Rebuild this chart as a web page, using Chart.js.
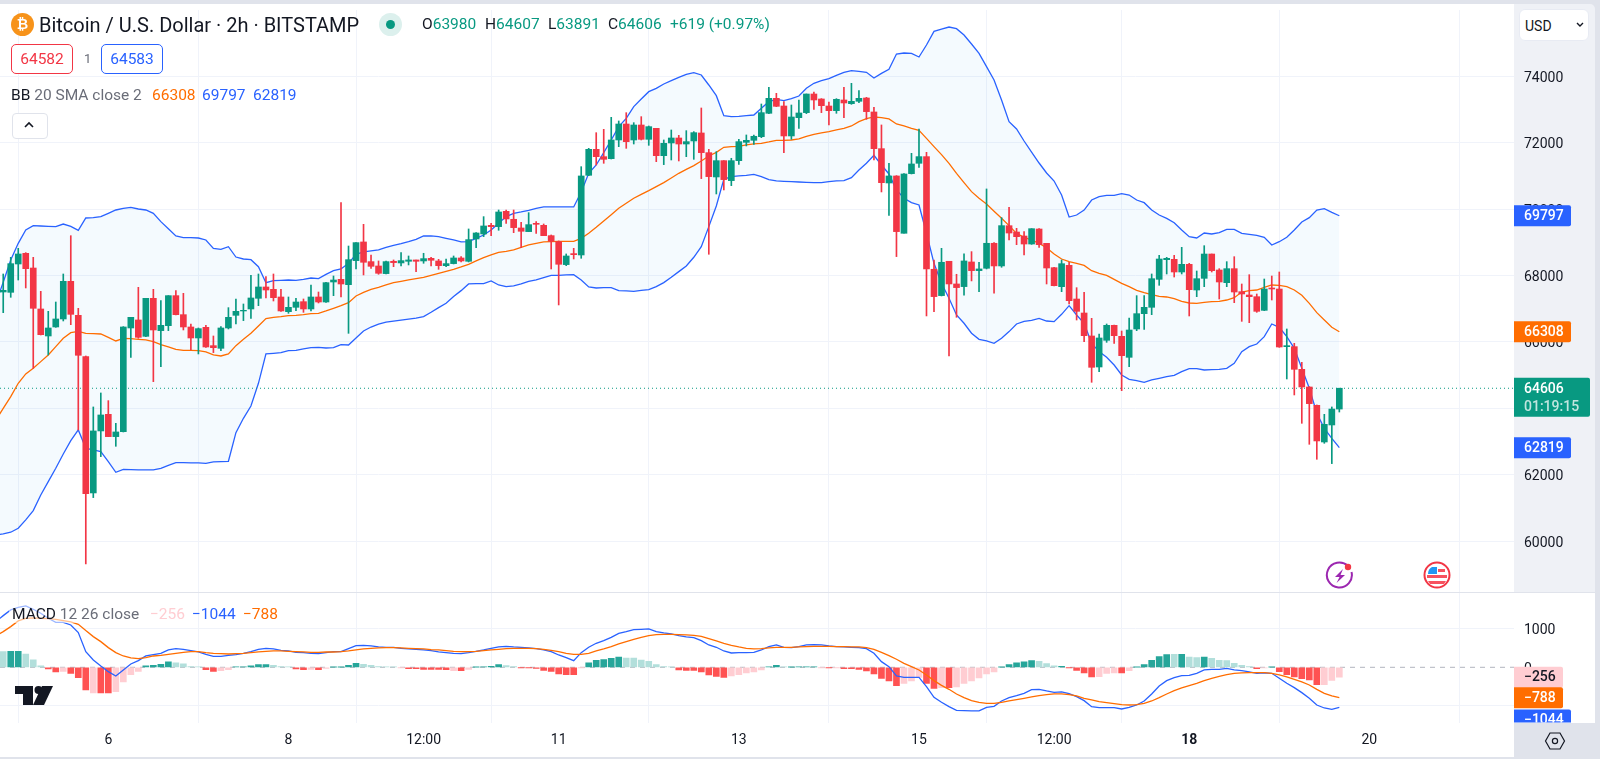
<!DOCTYPE html>
<html>
<head>
<meta charset="utf-8">
<title>BTCUSD 2h</title>
<script src="https://cdn.jsdelivr.net/npm/chart.js@4"></script>
<style>
	html, body { margin: 0; padding: 0; width: 1600px; height: 759px; overflow: hidden; background: #e0e3eb; }
	body { font-family: Roboto, sans-serif; color: #131722; position: relative; }
	.box, canvas, .t, svg { position: absolute; }
	.t { white-space: nowrap; line-height: 18px; }
	.up { color: #089981; }
	.gray { color: #6a6d78; }
</style>
</head>
<body>
<div class="box" style="left:0;top:4px;width:1514px;height:588px;background:#fff"></div>
<div class="box" style="left:1514px;top:4px;width:81px;height:588px;background:#eff1f6;border-top-right-radius:5px"></div>
<div class="box" style="left:0;top:593px;width:1595px;height:130px;background:#fff"></div>
<div class="box" style="left:0;top:723px;width:1514px;height:34px;background:#fff"></div>

<canvas id="price-chart" width="1600" height="592" style="left:0;top:0"></canvas>
<canvas id="macd-chart" width="1600" height="165" style="left:0;top:593px"></canvas>

<svg style="left:11px;top:13px" width="23" height="23" viewBox="0 0 23 23"><circle cx="11.5" cy="11.5" r="11.5" fill="#f7931a"/></svg>
<div class="t" style="left:11px;top:15px;width:23px;text-align:center;color:#fff;font-size:14px;font-weight:700">₿</div>
<div class="t" style="left:39px;top:16px;font-size:20px">Bitcoin / U.S. Dollar · 2h · BITSTAMP</div>
<svg style="left:379px;top:13px" width="23" height="23" viewBox="0 0 23 23"><circle cx="11.5" cy="11.5" r="11.5" fill="#dcf0ed"/><circle cx="11.5" cy="11.5" r="4.5" fill="#089981"/></svg>
<div class="t" style="left:422px;top:15px;font-size:15.5px">O<span class="up">63980</span></div>
<div class="t" style="left:485px;top:15px;font-size:15.5px">H<span class="up">64607</span></div>
<div class="t" style="left:548px;top:15px;font-size:15.5px">L<span class="up">63891</span></div>
<div class="t" style="left:608px;top:15px;font-size:15.5px">C<span class="up">64606</span></div>
<div class="t up" style="left:670px;top:15px;font-size:15.5px">+619 (+0.97%)</div>

<div class="box" style="left:11px;top:44px;width:60px;height:28px;border:1px solid #f23645;border-radius:5px;background:#fff"></div>
<div class="t" style="left:11px;top:50px;width:62px;text-align:center;color:#f23645;font-size:15.5px">64582</div>
<div class="t gray" style="left:84px;top:50px;font-size:13px">1</div>
<div class="box" style="left:101px;top:44px;width:60px;height:28px;border:1px solid #2962ff;border-radius:5px;background:#fff"></div>
<div class="t" style="left:101px;top:50px;width:62px;text-align:center;color:#2962ff;font-size:15.5px">64583</div>

<div class="t" style="left:11px;top:86px;font-size:15.5px">BB <span class="gray">20 SMA close 2</span></div>
<div class="t" style="left:152px;top:86px;font-size:15.5px;color:#ff6d00">66308</div>
<div class="t" style="left:202px;top:86px;font-size:15.5px;color:#2962ff">69797</div>
<div class="t" style="left:253px;top:86px;font-size:15.5px;color:#2962ff">62819</div>
<div class="box" style="left:12px;top:113px;width:34px;height:24px;border:1px solid #e0e3eb;border-radius:4px;background:#fff"></div>
<svg style="left:23px;top:120px" width="12" height="9" viewBox="0 0 12 9"><path d="M2 7 L6 3 L10 7" fill="none" stroke="#131722" stroke-width="1.6"/></svg>

<div class="box" style="left:1519px;top:9px;width:68px;height:30px;border:1px solid #e8ebf3;border-radius:6px;background:#fff"></div>
<div class="t" style="left:1525px;top:17px;font-size:14px">USD</div>
<svg style="left:1575px;top:21px" width="10" height="8" viewBox="0 0 10 8"><path d="M2 2 L5 5 L8 2" fill="none" stroke="#131722" stroke-width="1.4"/></svg>

<svg style="left:1325px;top:561px" width="30" height="30" viewBox="0 0 30 30">
	<path d="M23 5 A12.5 12.5 0 1 0 26.5 11" fill="none" stroke="#9c27b0" stroke-width="2"/>
	<path d="M18 8 L10 16 H14.5 L11.5 22 L20 14 H15.5 Z" fill="#9c27b0"/>
	<circle cx="23" cy="6" r="3.2" fill="#f23645"/>
</svg>
<svg style="left:1423px;top:561px" width="28" height="28" viewBox="0 0 28 28">
	<circle cx="14" cy="14" r="12.5" fill="#fff" stroke="#f23645" stroke-width="2"/>
	<path d="M4 14 H24 V17 H4 Z M5 20 H23 L21 23 H7 Z" fill="#f7525f"/>
	<path d="M9 6 H14 V13 H5 Q5 8 9 6 Z" fill="#2196f3"/>
	<path d="M15 8 H22 V11 H15 Z" fill="#f7525f"/>
</svg>

<div class="t" style="left:9px;top:605px;padding:0 3px;background:rgba(255,255,255,.55);font-size:15.5px">MACD <span class="gray">12 26 close</span></div>
<div class="t" style="left:150px;top:605px;font-size:15.5px;color:#ffcdd2">−256</div>
<div class="t" style="left:192px;top:605px;font-size:15.5px;color:#2962ff">−1044</div>
<div class="t" style="left:243px;top:605px;font-size:15.5px;color:#ff6d00">−788</div>

<svg style="left:15px;top:686px" width="40" height="20" viewBox="0 0 40 20" fill="#131722">
	<path d="M0 0 H18 V19 H8 V8 H0 Z"/>
	<circle cx="23.5" cy="4" r="4"/>
	<path d="M27 0 H38 L29 19 H18 Z"/>
</svg>

<div class="box" style="left:1514px;top:723px;width:86px;height:36px;background:#e0e3eb"></div>
<svg style="left:1544px;top:730px" width="22" height="22" viewBox="0 0 22 22"><path d="M6 3 H16 L20.5 11 L16 19 H6 L1.500 11 Z" fill="none" stroke="#131722" stroke-width="1.2"/><circle cx="11" cy="11" r="2.6" fill="none" stroke="#131722" stroke-width="1.2"/></svg>

<script>
// every series is one value per 2h candle, slot 0 sits just left of the visible area
const opens = [
	67300, 67503, 67493, 68346, 68667, 68225, 66992, 66179, 66450, 66691,
	67824, 66801, 65557, 61455, 63321, 63822, 63150, 63300, 66420, 66661,
	66169, 67313, 66340, 66490, 67393, 66821, 66450, 66119, 66440, 65888,
	65808, 66420, 66801, 66932, 66992, 67313, 67654, 67583, 67353, 66911,
	67042, 67212, 66992, 67353, 67202, 67804, 67884, 67724, 68447, 69009,
	68417, 68286, 68056, 68427, 68377, 68427, 68467, 68437, 68517, 68437,
	68296, 68357, 68527, 68427, 69099, 69249, 69510, 69470, 69931, 69691,
	69430, 69320, 69570, 69510, 69199, 69019, 68327, 68658, 68617, 71015,
	71797, 71576, 71516, 72078, 72559, 72078, 72529, 72098, 72429, 71606,
	71988, 72138, 71957, 72048, 72289, 71697, 70965, 71456, 70855, 71456,
	72008, 72068, 72178, 72881, 73332, 73101, 72199, 72750, 72901, 73462,
	73312, 73101, 72961, 73282, 73171, 73242, 73342, 72921, 71817, 70784,
	70995, 69270, 71065, 71376, 71577, 68187, 67394, 68427, 67745, 67665,
	68407, 68146, 68217, 68969, 68287, 69499, 69308, 69188, 68947, 69399,
	68967, 68235, 67663, 68305, 67292, 66871, 66179, 65246, 66049, 66500,
	66169, 65537, 66390, 66851, 67042, 67884, 68476, 68486, 68105, 68335,
	67563, 67914, 68646, 68165, 67784, 68205, 67513, 67413, 67362, 66951,
	67623, 67593, 65858, 65858, 65176, 64644, 64093, 62989, 63501, 63980,
];
const highs = [
	67650, 68045, 68546, 68817, 68687, 68546, 67523, 66921, 67202, 68045,
	69198, 67012, 65577, 64043, 64464, 64233, 63551, 66460, 66741, 67644,
	67313, 67583, 67242, 67393, 67543, 67463, 66540, 66420, 66500, 66179,
	66460, 67032, 67293, 67142, 68005, 68045, 67965, 68045, 67583, 67353,
	67313, 67293, 67714, 67503, 67794, 67985, 70191, 68887, 68989, 69540,
	68617, 68437, 68437, 68467, 68688, 68587, 68467, 68668, 68547, 68487,
	68497, 68587, 68567, 69400, 69289, 69771, 69570, 69971, 69971, 69971,
	69600, 69891, 69620, 69550, 69219, 69039, 68648, 68818, 71275, 71827,
	72298, 72399, 72760, 72650, 72900, 72599, 72780, 72499, 72429, 72078,
	72379, 72218, 72359, 72329, 73041, 71797, 71727, 71456, 71527, 72098,
	72229, 72229, 73161, 73663, 73482, 73232, 73131, 73282, 73462, 73523,
	73322, 73222, 73322, 73663, 73783, 73563, 73362, 73061, 72530, 71376,
	71005, 71065, 71677, 72409, 71707, 68467, 68818, 68427, 68036, 68648,
	68718, 68397, 70604, 68989, 69741, 70051, 69419, 69318, 69409, 69409,
	68967, 68245, 68466, 68396, 67633, 67493, 66711, 66239, 66540, 66510,
	66329, 66721, 67393, 67393, 68045, 68606, 68546, 68606, 68847, 68365,
	68135, 68897, 68646, 68205, 68416, 68566, 67744, 68024, 67443, 67894,
	67984, 68105, 66390, 65958, 65387, 64654, 64103, 63822, 64043, 64607,
];
const lows = [
	67000, 66881, 67343, 67864, 67624, 65206, 66209, 65608, 66440, 66631,
	66520, 63351, 59319, 61315, 62548, 63150, 62859, 63290, 65537, 66109,
	66159, 64805, 65256, 66340, 66811, 66360, 65758, 65638, 65838, 65678,
	65738, 66390, 66540, 66641, 66711, 67092, 67323, 67232, 66921, 66861,
	66942, 66891, 66932, 67172, 67192, 67393, 67353, 66259, 68196, 68016,
	68216, 68036, 68046, 68266, 68286, 68317, 68116, 68367, 68286, 68186,
	68266, 68347, 68407, 68407, 68838, 69169, 69199, 69360, 69570, 69289,
	68838, 69320, 69269, 69199, 68196, 67113, 68296, 68497, 68517, 71005,
	71326, 71376, 71506, 71877, 71827, 71957, 72078, 71917, 71426, 71336,
	71476, 71446, 71576, 71496, 70915, 68638, 70453, 70574, 70704, 71346,
	71898, 71948, 72148, 72871, 73081, 71697, 72098, 72429, 72871, 73001,
	72901, 72530, 72881, 72750, 73151, 73202, 72700, 71476, 70514, 69811,
	68568, 69270, 71055, 71256, 66782, 66913, 67384, 65579, 66742, 67404,
	67836, 67515, 68197, 67464, 68247, 69068, 68927, 68616, 68937, 68847,
	67744, 67683, 67513, 67142, 66660, 66008, 64785, 65106, 65988, 65958,
	64534, 65256, 66339, 66380, 66821, 67704, 68045, 67954, 68045, 66781,
	67362, 67663, 68105, 67292, 67663, 67182, 66620, 66580, 66891, 66941,
	67262, 65838, 64885, 64404, 63551, 62919, 62468, 62949, 62338, 63891,
];
const closes = [
	67503, 67553, 68356, 68647, 68205, 67012, 66219, 66420, 66691, 67824,
	66831, 65598, 61435, 63321, 63802, 63150, 63291, 66450, 66741, 66139,
	67313, 66360, 66500, 67393, 66821, 66450, 66119, 66400, 65848, 65828,
	66420, 66741, 66921, 66952, 67323, 67654, 67563, 67333, 66932, 67042,
	67202, 66992, 67353, 67202, 67784, 67864, 67744, 68476, 68989, 68397,
	68276, 68066, 68417, 68387, 68447, 68467, 68427, 68507, 68457, 68296,
	68357, 68527, 68437, 69079, 69279, 69490, 69470, 69911, 69701, 69440,
	69330, 69530, 69540, 69199, 69029, 68337, 68587, 68627, 70995, 71797,
	71576, 71496, 72078, 72559, 72028, 72529, 72098, 72479, 71606, 71977,
	72138, 71957, 72028, 72299, 71697, 70975, 71456, 70885, 71456, 72028,
	72068, 72189, 72901, 73332, 73091, 72199, 72770, 72891, 73462, 73282,
	73111, 72961, 73302, 73192, 73242, 73332, 72931, 71817, 70794, 70995,
	69320, 71055, 71356, 71577, 68197, 67364, 68397, 67745, 67635, 68437,
	68146, 68197, 68969, 68287, 69500, 69278, 69168, 68947, 69409, 68927,
	68225, 67693, 68355, 67242, 66921, 66189, 65236, 66119, 66500, 66189,
	65587, 66359, 66851, 67042, 67904, 68496, 68516, 68105, 68335, 67573,
	67904, 68646, 68145, 67804, 68205, 67503, 67443, 67362, 66921, 67593,
	67593, 65848, 65888, 65176, 64644, 64143, 63020, 63521, 63980, 64606,
];
const bbUpper = [
	67162, 67794, 68466, 68968, 69369, 69499, 69489, 69479, 69469, 69549,
	69479, 69359, 69730, 69740, 69770, 69870, 69971, 70021, 70051, 70001,
	69971, 69870, 69620, 69409, 69188, 69138, 69138, 69128, 69068, 68817,
	68787, 68867, 68556, 68496, 68476, 68265, 67784, 67844, 67854, 67864,
	67854, 67884, 67924, 67904, 68035, 68145, 68195, 68366, 68638, 68708,
	68738, 68768, 68848, 68908, 68958, 69019, 69089, 69189, 69189, 69169,
	69119, 69069, 69009, 69019, 69119, 69219, 69370, 69570, 69771, 69871,
	69911, 69961, 70022, 70062, 70062, 70062, 70062, 70062, 70513, 71075,
	71326, 71697, 72078, 72479, 72730, 73081, 73311, 73532, 73632, 73763,
	73863, 73963, 74054, 74104, 74034, 73733, 73412, 72810, 72780, 72790,
	72810, 72830, 73031, 73232, 73302, 73262, 73322, 73402, 73633, 73783,
	73864, 73924, 74024, 74114, 74164, 74144, 74114, 73944, 74084, 74205,
	74666, 74696, 74686, 74576, 74937, 75348, 75418, 75478, 75428, 75238,
	74967, 74686, 74285, 73884, 73282, 72630, 72408, 72047, 71716, 71385,
	71084, 70843, 70421, 69759, 69820, 69970, 70271, 70371, 70412, 70412,
	70462, 70422, 70271, 70191, 69970, 69820, 69720, 69589, 69368, 69168,
	69128, 69278, 69248, 69288, 69389, 69389, 69268, 69238, 69208, 69148,
	68917, 69017, 69148, 69368, 69609, 69740, 69970, 70010, 69900, 69797,
];
const bbBasis = [
	63632, 64003, 64354, 64755, 65036, 65206, 65407, 65608, 65858, 66109,
	66280, 66320, 66259, 66250, 66239, 66139, 66029, 66109, 66099, 66079,
	66059, 66009, 65918, 65848, 65778, 65748, 65748, 65738, 65698, 65608,
	65577, 65638, 65888, 66079, 66259, 66480, 66701, 66741, 66761, 66791,
	66801, 66821, 66851, 66861, 66932, 67012, 67092, 67182, 67384, 67494,
	67584, 67645, 67715, 67785, 67825, 67865, 67905, 67945, 68006, 68066,
	68126, 68186, 68256, 68337, 68437, 68537, 68617, 68698, 68728, 68768,
	68848, 68918, 68968, 69009, 69019, 69029, 69029, 69029, 69119, 69269,
	69450, 69641, 69831, 70022, 70172, 70323, 70443, 70553, 70674, 70794,
	70934, 71075, 71195, 71306, 71446, 71597, 71707, 71858, 71878, 71888,
	71928, 71958, 71978, 72018, 72068, 72068, 72078, 72108, 72189, 72249,
	72289, 72329, 72379, 72429, 72499, 72630, 72720, 72770, 72750, 72710,
	72560, 72499, 72429, 72369, 72128, 71878, 71637, 71376, 71075, 70794,
	70524, 70323, 70152, 69932, 69721, 69500, 69268, 69148, 69068, 68967,
	68837, 68646, 68496, 68416, 68365, 68305, 68145, 68065, 68004, 67884,
	67764, 67663, 67553, 67483, 67423, 67373, 67353, 67302, 67222, 67172,
	67162, 67192, 67212, 67222, 67262, 67332, 67503, 67543, 67563, 67643,
	67714, 67704, 67663, 67563, 67403, 67162, 66881, 66660, 66440, 66308,
];
const bbLower = [
	60191, 60221, 60272, 60392, 60643, 60924, 61395, 61796, 62197, 62629,
	63030, 63351, 62799, 62749, 62699, 62398, 62077, 62167, 62157, 62147,
	62147, 62147, 62197, 62288, 62368, 62368, 62358, 62358, 62348, 62388,
	62398, 62408, 63271, 63702, 64073, 64755, 65638, 65658, 65678, 65738,
	65748, 65788, 65828, 65838, 65818, 65828, 65918, 65908, 66117, 66328,
	66448, 66538, 66599, 66629, 66659, 66689, 66719, 66762, 66892, 67033,
	67163, 67364, 67544, 67745, 67755, 67755, 67835, 67715, 67665, 67685,
	67745, 67825, 67865, 67935, 68006, 68006, 68016, 68026, 67865, 67655,
	67624, 67635, 67635, 67544, 67534, 67524, 67554, 67574, 67665, 67785,
	67945, 68116, 68286, 68548, 68869, 69470, 70092, 70895, 70975, 70995,
	71015, 71045, 70975, 70885, 70845, 70834, 70824, 70814, 70804, 70794,
	70794, 70824, 70845, 70855, 70945, 71175, 71376, 71617, 71326, 71055,
	70574, 70323, 70193, 70122, 69270, 68367, 67765, 67314, 66812, 66562,
	66261, 66080, 66030, 65960, 66110, 66311, 66540, 66620, 66650, 66711,
	66630, 66610, 66831, 67092, 66811, 66560, 65958, 65708, 65537, 65306,
	65005, 64875, 64835, 64785, 64855, 64905, 64955, 64995, 65106, 65196,
	65196, 65156, 65166, 65176, 65206, 65356, 65708, 65858, 65938, 66159,
	66540, 66440, 66159, 65808, 65206, 64604, 63852, 63401, 63100, 62819,
];
const macdLine = [
	1186, 1342, 1490, 1559, 1593, 1507, 1403, 1273, 1169, 1169,
	1100, 901, 407, 191, 35, -113, -225, -69, 87, 173,
	294, 329, 364, 450, 485, 468, 433, 398, 338, 286,
	286, 312, 329, 364, 407, 468, 494, 476, 442, 424,
	390, 381, 364, 355, 381, 407, 407, 485, 563, 572,
	554, 528, 520, 520, 494, 476, 468, 450, 433, 398,
	381, 364, 355, 381, 416, 450, 494, 528, 546, 528,
	520, 502, 485, 450, 407, 320, 251, 173, 381, 520,
	624, 693, 779, 883, 927, 979, 987, 996, 927, 892,
	866, 823, 788, 771, 693, 580, 520, 424, 372, 381,
	381, 390, 450, 537, 580, 520, 511, 537, 580, 589,
	580, 554, 537, 528, 520, 511, 485, 364, 147, 17,
	-225, -260, -260, -260, -502, -779, -909, -1022, -1117, -1126,
	-1134, -1134, -1039, -1013, -875, -788, -736, -675, -580, -572,
	-615, -650, -641, -684, -762, -866, -1022, -1048, -1048, -1048,
	-1083, -1039, -979, -875, -693, -485, -346, -268, -217, -208,
	-156, -69, -52, -52, -26, -69, -87, -121, -156, -147,
	-156, -286, -416, -528, -658, -805, -979, -1057, -1091, -1044,
];
const macdSignal = [
	814, 927, 1057, 1204, 1273, 1282, 1273, 1264, 1247, 1212,
	1178, 1117, 953, 797, 667, 511, 381, 294, 242, 225,
	251, 294, 312, 338, 364, 390, 407, 407, 381, 364,
	355, 346, 355, 364, 381, 398, 416, 424, 424, 416,
	407, 398, 390, 390, 398, 398, 407, 424, 450, 476,
	494, 502, 511, 511, 502, 494, 485, 476, 459, 450,
	433, 416, 407, 407, 416, 433, 450, 468, 485, 494,
	494, 494, 485, 468, 442, 407, 364, 338, 338, 364,
	424, 476, 537, 606, 667, 727, 779, 823, 849, 857,
	857, 849, 840, 831, 805, 745, 684, 624, 572, 528,
	494, 476, 485, 502, 520, 520, 520, 528, 537, 546,
	546, 546, 537, 537, 528, 528, 511, 468, 390, 303,
	208, 104, 17, -69, -199, -346, -468, -572, -693, -788,
	-866, -909, -935, -935, -909, -875, -840, -805, -771, -736,
	-710, -693, -693, -710, -745, -805, -849, -892, -918, -944,
	-970, -979, -970, -935, -875, -788, -693, -606, -537, -476,
	-416, -346, -286, -234, -191, -156, -147, -139, -139, -139,
	-156, -199, -251, -312, -381, -459, -572, -675, -745, -788,
];
const macdHist = [
	400, 407, 416, 416, 346, 191, 35, -43, -121, -104,
	-156, -269, -589, -667, -667, -667, -632, -381, -191, -104,
	35, 52, 78, 139, 113, 87, 17, 9, -61, -104,
	-87, -61, 9, 9, 35, 69, 69, 52, 17, 9,
	-43, -61, -52, -61, -26, 5, 5, 52, 104, 78,
	52, 17, 9, 9, -9, -35, -35, -52, -52, -52,
	-61, -87, -87, -52, 5, 9, 26, 69, 43, 17,
	-9, -9, -26, -78, -104, -173, -191, -191, -9, 113,
	182, 199, 234, 268, 242, 242, 190, 156, 69, 17,
	9, -69, -78, -78, -121, -199, -234, -260, -225, -191,
	-147, -121, -69, 9, 52, 9, 5, 9, 9, 9,
	-9, -9, -5, -35, -35, -52, -95, -173, -286, -355,
	-476, -416, -355, -260, -416, -546, -528, -528, -511, -416,
	-355, -277, -173, -121, 5, 69, 113, 139, 173, 156,
	95, 35, 26, -9, -78, -147, -251, -242, -156, -147,
	-147, -87, 3, 69, 182, 277, 329, 338, 338, 268,
	251, 268, 234, 182, 173, 104, 52, 17, -35, -17,
	3, -113, -191, -251, -294, -329, -450, -450, -338, -256,
];
// slots whose histogram bar is the pale shade (momentum fading)
const fadingSlots = [
	1, 4, 5, 6, 9, 13, 16, 17, 18, 19, 24, 25, 26, 27, 30, 31, 37, 38, 39, 42, 44,
	49, 50, 51, 52, 53, 54, 61, 63, 68, 69, 78, 84, 85, 86, 87, 88, 89, 90, 98, 99,
	100, 101, 102, 105, 110, 112, 121, 122, 123, 126, 128, 129, 130, 131, 132, 133,
	139, 140, 141, 147, 148, 149, 151, 157, 159, 160, 162, 163, 164, 165, 166, 167,
	169, 177, 178, 179,
];
const timeTickSlots = [15, 39, 57, 75, 99, 123, 141, 159, 183];
const timeTickLabels = ["6", "8", "12:00", "11", "13", "15", "12:00", "18", "20"];
const priceTicks = [60000, 62000, 64000, 66000, 68000, 70000, 72000, 74000];
const macdTicks = [-1000, 0, 1000];

const UP = "#089981";
const DOWN = "#f23645";
const BLUE = "#2962ff";
const ORANGE = "#ff6d00";
const GRID = "#f0f3fa";
const X_MIN = 0.57;
const X_MAX = 202.27;
const LINE_WIDTH = 1.3;
const lastSlot = closes.length - 1;

const series = (values) => values.map((v, i) => ({ x: i, y: v }));
const candleColors = closes.map((c, i) => (c >= opens[i] ? UP : DOWN));

function xScale(showLabels, height) {
	return {
		type: "linear",
		min: X_MIN,
		max: X_MAX,
		offset: false,
		border: { display: false },
		grid: { color: GRID, drawTicks: false },
		afterBuildTicks: (scale) => {
			scale.ticks = timeTickSlots.map((v) => ({ value: v }));
		},
		afterFit: (scale) => {
			scale.height = height;
			scale.paddingLeft = 0;
			scale.paddingRight = 0;
		},
		ticks: {
			display: showLabels,
			autoSkip: false,
			maxRotation: 0,
			padding: 10,
			color: "#131722",
			font: (c) => ({ family: "Roboto", size: 14, weight: c.tick && c.tick.value === 159 ? "700" : "400" }),
			callback: (val) => timeTickLabels[timeTickSlots.indexOf(val)],
		},
	};
}

// hiddenLabel: tick whose text sits fully under the price tags
function yScale(min, max, tickValues, noGridAt, hiddenLabel) {
	return {
		position: "right",
		min: min,
		max: max,
		border: { display: false },
		grid: { color: (c) => (c.tick && c.tick.value === noGridAt ? "transparent" : GRID), drawTicks: false },
		afterFit: (scale) => {
			scale.width = 86;
			// tick labels must not push the plot area in, it has to reach the panel edges
			scale.paddingTop = 0;
			scale.paddingBottom = 0;
		},
		afterBuildTicks: (scale) => {
			scale.ticks = tickValues.map((v) => ({ value: v }));
		},
		ticks: {
			padding: 10,
			color: "#131722",
			font: { family: "Roboto", size: 14 },
			callback: (val) => (val === hiddenLabel ? "" : String(val)),
		},
	};
}

// labels on the price scale, they follow the y scale and sit over the tick labels
function tagPlugin(tags) {
	return {
		id: "tags",
		beforeDraw(chart) {
			// Roboto sits high with a middle baseline, move the axis text down onto its grid line
			chart.scales.y.getLabelItems().forEach((item) => {
				item.textOffset += 2;
			});
		},
		afterDraw(chart) {
			const ctx = chart.ctx;
			const area = chart.chartArea;
			const yAxis = chart.scales.y;
			ctx.save();
			ctx.beginPath();
			ctx.rect(area.right, 0, chart.width - area.right, area.bottom);
			ctx.clip();
			ctx.textBaseline = "middle";
			ctx.textAlign = "left";
			tags.forEach((tag) => {
				const mid = yAxis.getPixelForValue(tag.value) + (tag.shift || 0);
				const h = tag.sub ? 39 : 21;
				const top = mid - 10.5;
				ctx.fillStyle = tag.bg;
				ctx.beginPath();
				ctx.roundRect(area.right, top, tag.width, h, [0, 2, 2, 0]);
				ctx.fill();
				ctx.fillStyle = tag.color || "#fff";
				ctx.font = "500 14px Roboto";
				ctx.fillText(tag.text, area.right + 10, mid + (tag.sub ? 1.5 : 0.5));
				if (tag.sub) {
					ctx.fillStyle = "rgba(255,255,255,.75)";
					ctx.fillText(tag.sub, area.right + 10, mid + 19);
				}
			});
			ctx.restore();
		},
	};
}

new Chart(document.getElementById("price-chart"), {
	type: "bar",
	plugins: [
		tagPlugin([
			{ value: bbUpper[lastSlot], text: String(bbUpper[lastSlot]), bg: BLUE, width: 57 },
			{ value: bbBasis[lastSlot], text: String(bbBasis[lastSlot]), bg: ORANGE, width: 57 },
			{ value: closes[lastSlot], text: String(closes[lastSlot]), sub: "01:19:15", bg: UP, width: 76 },
			{ value: bbLower[lastSlot], text: String(bbLower[lastSlot]), bg: BLUE, width: 57 },
		]),
	],
	data: {
		datasets: [
			{
				type: "line",
				data: series(bbUpper),
				borderColor: BLUE,
				borderWidth: LINE_WIDTH,
				pointRadius: 0,
				fill: { target: 2 },
				backgroundColor: "rgba(33,150,243,0.05)",
				order: 5,
			},
			{ type: "line", data: series(bbBasis), borderColor: ORANGE, borderWidth: LINE_WIDTH, pointRadius: 0, order: 4 },
			{ type: "line", data: series(bbLower), borderColor: BLUE, borderWidth: LINE_WIDTH, pointRadius: 0, order: 4 },
			{
				type: "line",
				data: [
					{ x: X_MIN, y: closes[lastSlot] },
					{ x: X_MAX, y: closes[lastSlot] },
				],
				borderColor: UP,
				borderWidth: 1,
				borderDash: [1, 3],
				pointRadius: 0,
				order: 3,
			},
			{
				data: closes.map((c, i) => ({ x: i, y: [lows[i], highs[i]] })),
				backgroundColor: candleColors,
				barThickness: 1,
				maxBarThickness: 1,
				grouped: false,
				order: 2,
			},
			{
				data: closes.map((c, i) => ({ x: i, y: [opens[i], c] })),
				backgroundColor: candleColors,
				barThickness: 6,
				maxBarThickness: 6,
				grouped: false,
				order: 1,
			},
		],
	},
	options: {
		responsive: false,
		animation: false,
		events: [],
		layout: { padding: { top: 10 } },
		plugins: { legend: { display: false }, tooltip: { enabled: false } },
		scales: {
			x: xScale(false, 0),
			y: yScale(58474, 75990, priceTicks),
		},
	},
});

new Chart(document.getElementById("macd-chart"), {
	type: "bar",
	plugins: [
		tagPlugin([
			{ value: macdHist[lastSlot], text: "−256", bg: "#ffcdd2", color: "#131722", width: 49 },
			{ value: macdSignal[lastSlot], text: "−788", bg: ORANGE, width: 49 },
			{ value: macdLine[lastSlot], text: "−1044", bg: BLUE, width: 57, shift: 12.5 },
		]),
	],
	data: {
		datasets: [
			{
				type: "line",
				data: [
					{ x: X_MIN, y: 0 },
					{ x: X_MAX, y: 0 },
				],
				borderColor: "#b2b5be",
				borderWidth: 1,
				borderDash: [5, 5],
				pointRadius: 0,
				order: 4,
			},
			{ type: "line", data: series(macdLine), borderColor: BLUE, borderWidth: LINE_WIDTH, pointRadius: 0, order: 2 },
			{ type: "line", data: series(macdSignal), borderColor: ORANGE, borderWidth: LINE_WIDTH, pointRadius: 0, order: 1 },
			{
				data: series(macdHist),
				backgroundColor: macdHist.map((v, i) => {
					const fading = fadingSlots.includes(i);
					if (v >= 0) return fading ? "#b2dfdb" : "#26a69a";
					return fading ? "#ffcdd2" : "#ff5252";
				}),
				barThickness: 6,
				maxBarThickness: 6,
				grouped: false,
				order: 3,
			},
		],
	},
	options: {
		responsive: false,
		animation: false,
		events: [],
		plugins: { legend: { display: false }, tooltip: { enabled: false } },
		scales: {
			x: xScale(true, 35.5),
			y: yScale(-1434, 1930, macdTicks, 0, -1000),
		},
	},
});
</script>
</body>
</html>
